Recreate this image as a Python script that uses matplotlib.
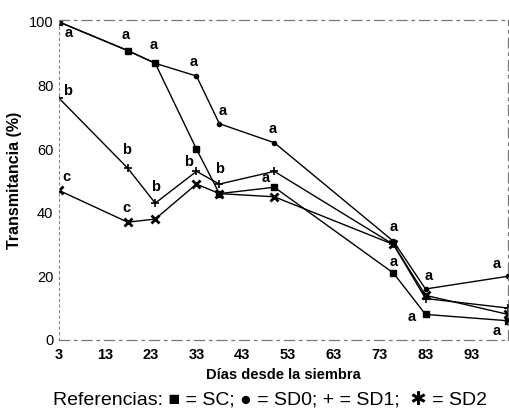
import matplotlib

matplotlib.use("Agg")
import matplotlib.pyplot as plt

plt.rcParams["font.family"] = ["Liberation Sans", "DejaVu Sans"]

# days after sowing and light transmittance (%) per treatment
days = [3, 18, 24, 33, 38, 50, 76, 83, 101]
sc = [100, 91, 87, 60, 46, 48, 21, 8, 6]
sd0 = [100, 91, 87, 83, 68, 62, 31, 16, 20]
sd1 = [76, 54, 43, 53, 49, 53, 30, 13, 10]
sd2 = [47, 37, 38, 49, 46, 45, 30, 14, 8]

# significance letters (None = no letter drawn)
sc_letters = [None, None, None, None, None, None, "a", "a", "a"]
sd0_letters = ["a", "a", "a", "a", "a", "a", "a", "a", "a"]
sd1_letters = ["b", "b", "b", "b", "b", "a", None, None, None]
sd2_letters = ["c", "c", None, None, None, None, None, None, None]

x_ticks = [3, 13, 23, 33, 43, 53, 63, 73, 83, 93]
y_ticks = [0, 20, 40, 60, 80, 100]

# letter offsets in pixels (dx, dy)
sc_off = [None] * 6 + [(0, 11), (-14, -3), (-11, -10)]
sd0_off = [(10, -11), (-2, 16), (-2, 18), (-3, 14), (3, 13), (-2, 14), (0, 14), (3, 13), (-11, 12)]
sd1_off = [(9, 7), (-1, 18), (0, 16), (-8, 9), (0, 15), (-9, -7), None, None, None]
sd2_off = [(7, 13), (-1, 14)] + [None] * 7

fig = plt.figure(figsize=(5.09, 4.18), dpi=100)
ax = fig.add_axes([0.116, 0.187, 0.882, 0.765])

ax.plot(days, sd0, color="black", lw=1.0, marker="o", ms=3)
ax.plot(days, sc, color="black", lw=1.0, marker="s", ms=5)
ax.plot(days, sd1, color="black", lw=1.0, marker="+", ms=6, mew=1.2)
ax.plot(days, sd2, color="black", lw=1.0, marker="x", ms=5.5, mew=2)

for vals, letters, offs in [
    (sc, sc_letters, sc_off),
    (sd0, sd0_letters, sd0_off),
    (sd1, sd1_letters, sd1_off),
    (sd2, sd2_letters, sd2_off),
]:
    for d, v, lt, off in zip(days, vals, letters, offs):
        if lt is None:
            continue
        ax.annotate(lt, (d, v), xytext=off, textcoords="offset pixels",
                    ha="center", va="center", fontsize=10.5, fontweight="bold")

ax.set_xlim(3, 101)
ax.set_ylim(0, 100.6)
ax.set_xticks(x_ticks)
ax.set_yticks(y_ticks)
ax.tick_params(axis="x", length=0, pad=6, labelsize=10.5)
ax.tick_params(axis="y", length=0, pad=4, labelsize=10.5)
for lbl in ax.get_xticklabels():
    lbl.set_fontweight("bold")

for side in ["top", "right", "bottom"]:
    ax.spines[side].set_linestyle((0, (8, 4, 2, 4)))
    ax.spines[side].set_color("#777777")
    ax.spines[side].set_linewidth(0.9)
ax.spines["left"].set_linestyle((0, (2, 3)))
ax.spines["left"].set_color("#888888")
ax.spines["left"].set_linewidth(0.8)

ax.set_ylabel("Transmitancia (%)", fontsize=11.5, fontweight="bold", labelpad=5)
ax.set_xlabel("Días desde la siembra", fontsize=10.5, fontweight="bold", labelpad=4)

fig.text(0.53, 0.02, "Referencias: ■ = SC; ● = SD0; + = SD1;  ✱ = SD2",
         ha="center", va="bottom", fontsize=14,
         family=["Liberation Sans", "DejaVu Sans"])

fig.savefig("out.png", dpi=100)
